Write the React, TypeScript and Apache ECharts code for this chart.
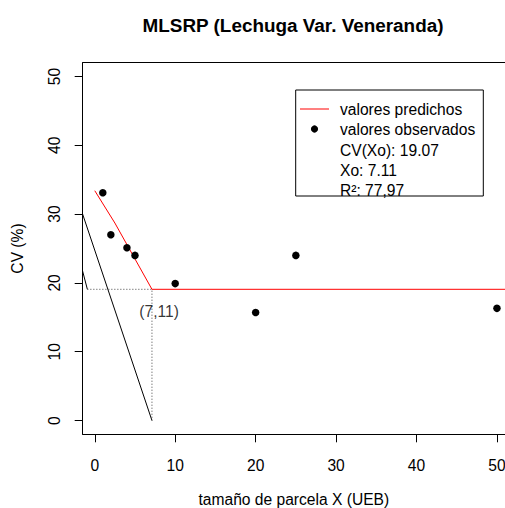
import React, { useEffect, useRef } from "react";
import * as echarts from "echarts";

// Observed data
const obsX = [1, 2, 4, 5, 10, 20, 25, 50];
const obsY = [33.1, 27.0, 25.1, 24.0, 19.9, 15.7, 24.0, 16.3];

// Predicted (linear-plateau) line
const predX = [0, 2.5, 7.11, 52];
const predY = [33.4, 28.7, 19.07, 19.07];

// Black guide lines
const lineAX = [-2, 7.11];
const lineAY = [31.7, 0];
const lineBX = [-2, -0.92];
const lineBY = [23.9, 19.07];

// Dotted projection lines
const dotX = [-0.92, 7.11, 7.11];
const dotY = [19.07, 19.07, 0];

// Annotation
const annX = [8];
const annY = [15.8];
const annText = ["(7,11)"];

const xTicks = [0, 10, 20, 30, 40, 50];
const yTicks = [0, 10, 20, 30, 40, 50];

const legendSeries = ["valores predichos", "valores observados"];
const legendExtra = ["CV(Xo): 19.07", "Xo: 7.11", "R²: 77,97"];

const FONT = "'Liberation Sans', Arial, sans-serif";
const FS = 15.6;

const zip = (xs: number[], ys: number[]) => xs.map((x, i) => [x, ys[i]]);

export default function App() {
  const ref = useRef<HTMLDivElement>(null);
  useEffect(() => {
    if (!ref.current) return;
    const chart = echarts.init(ref.current, null, { renderer: "svg" });
    chart.setOption({
      animation: false,
      backgroundColor: "#fff",
      textStyle: { fontFamily: FONT },
      grid: {
        left: 82.7,
        top: 62.7,
        bottom: 73.7,
        right: 0,
        show: false,
        outerBoundsMode: "none",
        containLabel: false,
      },
      legend: {
        data: [
          { name: legendSeries[0], icon: "path://M0,0L29,0L29,1L0,1Z" },
          { name: legendSeries[1], icon: "circle" },
        ],
        orient: "vertical",
        left: 300,
        top: 101,
        itemWidth: 29,
        itemHeight: 7.2,
        itemGap: 4,
        padding: 0,
        selectedMode: false,
        itemStyle: { opacity: 1 },
        textStyle: {
          fontSize: FS,
          color: "#000",
          fontFamily: FONT,
          padding: [0, 0, 0, 6],
          lineHeight: 16,
        },
        z: 20,
      },
      xAxis: [
        {
          type: "value",
          min: -1.5,
          max: 51,
          splitLine: { show: false },
          axisLine: { show: true, onZero: false, lineStyle: { color: "#000", width: 1 } },
          axisTick: {
            show: true,
            length: 8,
            inside: false,
            customValues: xTicks,
            lineStyle: { color: "#000", width: 1 },
          },
          axisLabel: {
            customValues: xTicks,
            fontSize: FS,
            color: "#000",
            margin: 23,
            fontFamily: FONT,
          },
          name: "tamaño de parcela X (UEB)",
          nameLocation: "middle",
          nameGap: 57,
          nameTextStyle: { fontSize: FS, color: "#000", fontFamily: FONT },
        },
        {
          type: "value",
          position: "top",
          min: -1.5,
          max: 51,
          splitLine: { show: false },
          axisLine: { show: true, onZero: false, lineStyle: { color: "#000", width: 1 } },
          axisTick: { show: false },
          axisLabel: { show: false },
        },
      ],
      yAxis: {
        type: "value",
        min: -2,
        max: 52,
        splitLine: { show: false },
        axisLine: { show: true, onZero: false, lineStyle: { color: "#000", width: 1 } },
        axisTick: {
          show: true,
          length: 8,
          inside: false,
          customValues: yTicks,
          lineStyle: { color: "#000", width: 1 },
        },
        axisLabel: {
          customValues: yTicks,
          fontSize: FS,
          color: "#000",
          margin: 20,
          rotate: 90,
          fontFamily: FONT,
        },
        name: "CV (%)",
        nameLocation: "middle",
        nameRotate: 90,
        nameGap: 57,
        nameTextStyle: { fontSize: FS, color: "#000", fontFamily: FONT },
      },
      series: [
        {
          name: "lineA",
          type: "line",
          data: zip(lineAX, lineAY),
          symbol: "none",
          lineStyle: { color: "#000", width: 1 },
          clip: true,
          z: 2,
        },
        {
          name: "lineB",
          type: "line",
          data: zip(lineBX, lineBY),
          symbol: "none",
          lineStyle: { color: "#000", width: 1 },
          clip: true,
          z: 2,
        },
        {
          name: "dotted",
          type: "line",
          data: zip(dotX, dotY),
          symbol: "none",
          lineStyle: { color: "#444", width: 1, type: [1, 2] },
          clip: true,
          z: 2,
        },
        {
          name: "valores predichos",
          type: "line",
          data: zip(predX, predY),
          symbol: "none",
          color: "#ff0000",
          itemStyle: { color: "#ff0000" },
          lineStyle: { color: "#ff0000", width: 1 },
          clip: true,
          z: 3,
        },
        {
          name: "valores observados",
          type: "scatter",
          data: zip(obsX, obsY),
          symbol: "circle",
          symbolSize: 7.5,
          itemStyle: { color: "#000", opacity: 1 },
          z: 4,
        },
        {
          name: "annotation",
          type: "scatter",
          data: annX.map((x, i) => ({ value: [x, annY[i]], label: { formatter: annText[i] } })),
          symbolSize: 0,
          label: {
            show: true,
            position: "inside",
            fontSize: FS,
            color: "#000",
            fontFamily: FONT,
          },
          silent: true,
          z: 4,
        },
      ],
      graphic: [
        {
          type: "text",
          x: 293,
          y: 25,
          style: {
            text: "MLSRP (Lechuga Var. Veneranda)",
            font: `bold 18.9px ${FONT}`,
            fill: "#000",
            textAlign: "center",
            textVerticalAlign: "middle",
          },
        },
        {
          type: "rect",
          z: 5,
          shape: { x: 295.7, y: 90, width: 187.6, height: 106 },
          style: { fill: "#fff", stroke: "#000", lineWidth: 1 },
        },
        ...legendExtra.map((t, i) => ({
          type: "text",
          z: 21,
          x: 340,
          y: 150 + i * 20,
          style: {
            text: t,
            font: `${FS}px ${FONT}`,
            fill: "#000",
            textAlign: "left",
            textVerticalAlign: "middle",
          },
        })),
      ],
    });
    return () => chart.dispose();
  }, []);
  return (
    <div
      ref={ref}
      style={{ position: "absolute", left: 0, top: 0, width: 505, height: 508 }}
    />
  );
}
